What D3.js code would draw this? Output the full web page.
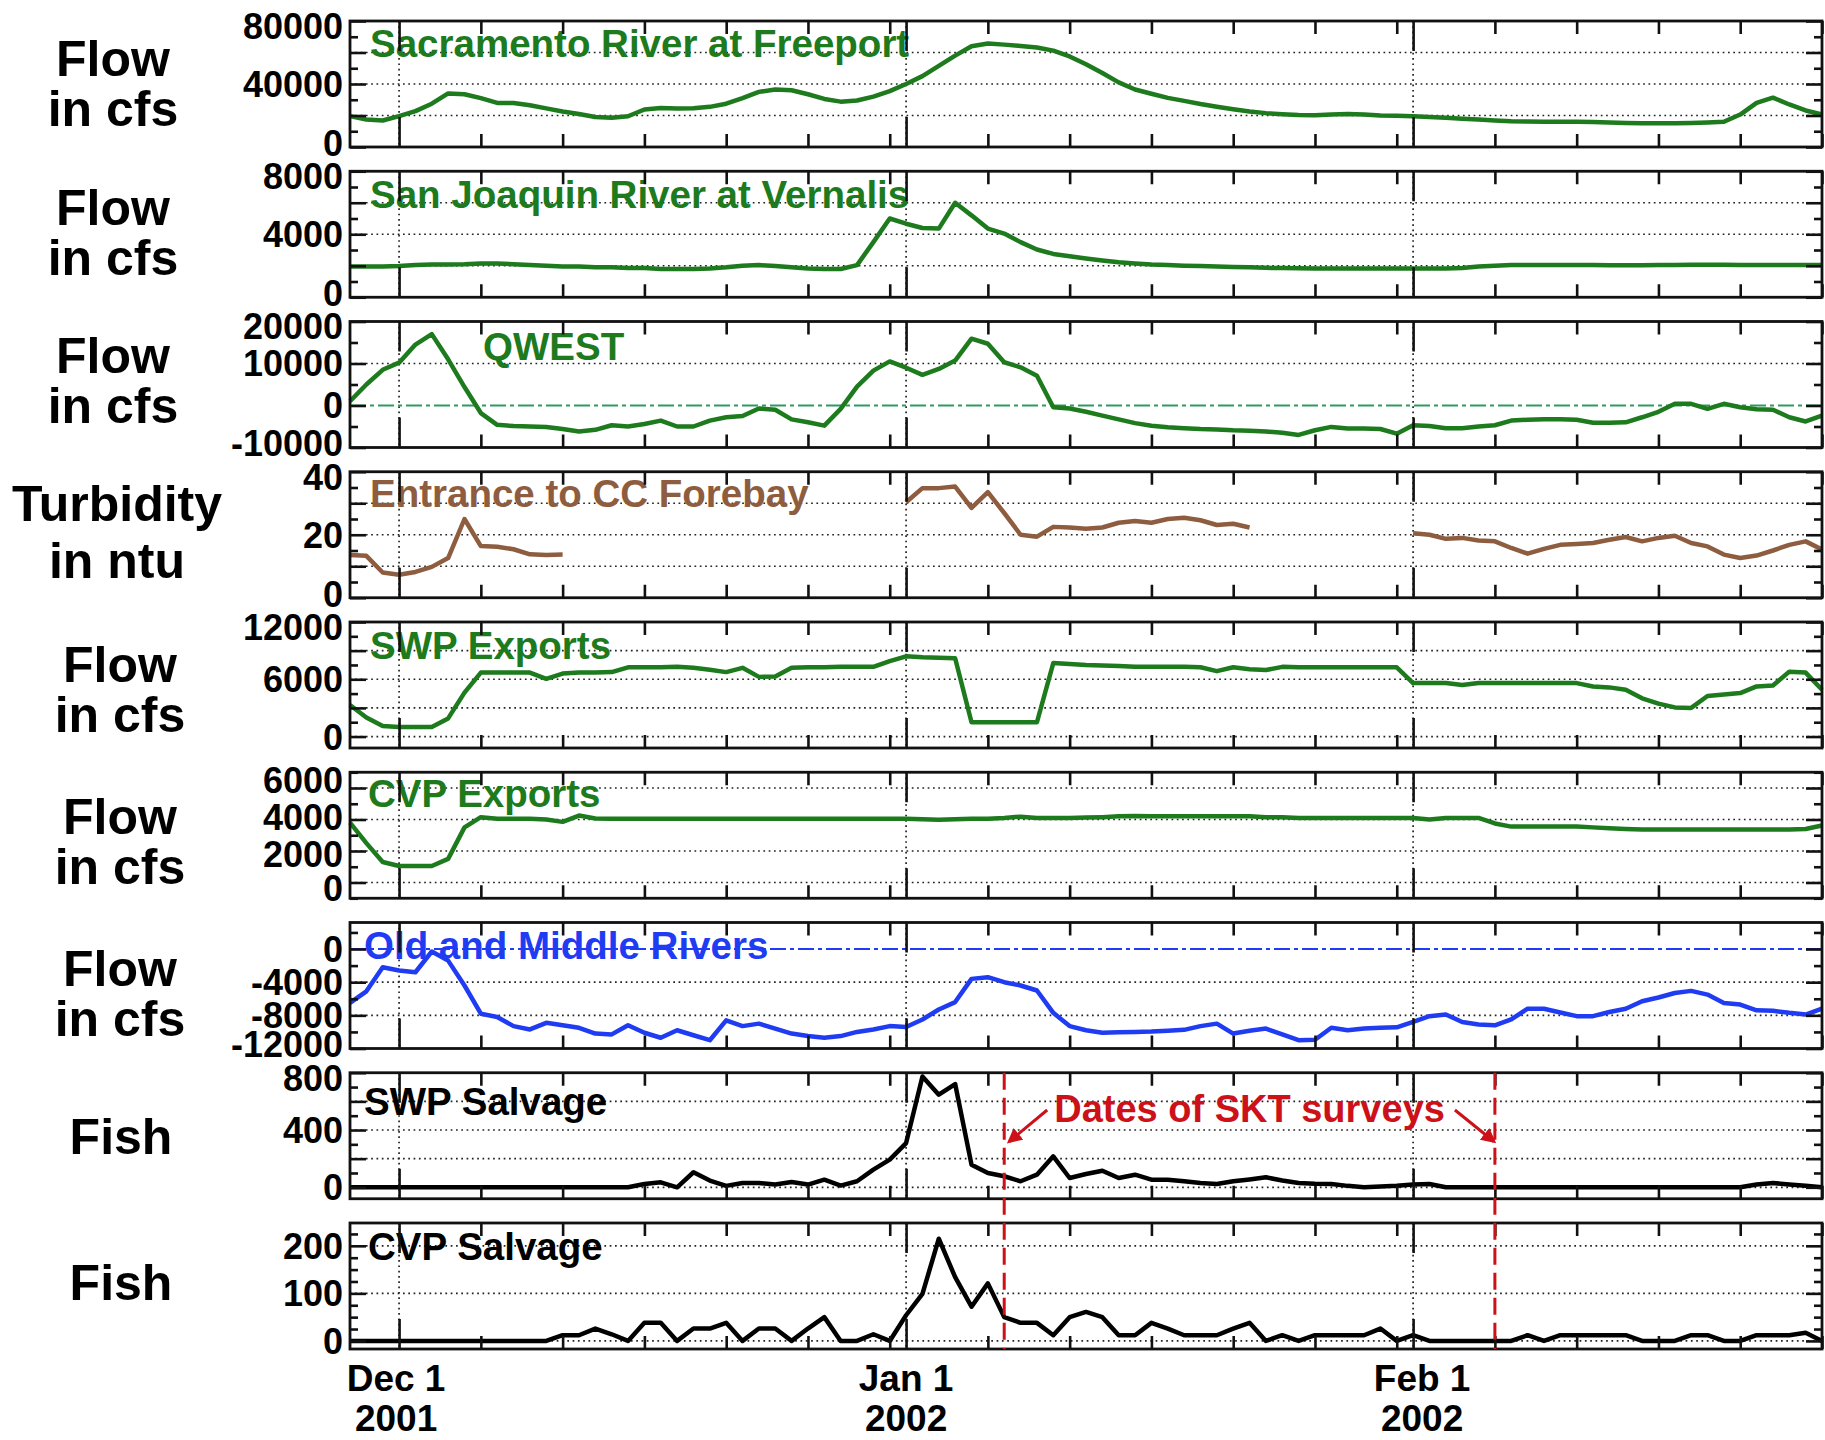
<!DOCTYPE html>
<html><head><meta charset="utf-8">
<script src="https://cdn.jsdelivr.net/npm/d3@7"></script>
<style>
html,body{margin:0;padding:0;background:#fff;}
svg text{font-family:"Liberation Sans",Arial,Helvetica,sans-serif;font-weight:bold;}
</style></head><body>
<svg id="chart" width="1825" height="1440"></svg>
<script>
// ---------------- DATA (daily, Nov 28 2001 .. Feb 26 2002) ----------------
const startDate = new Date(2001, 10, 28);
const endDate = new Date(2002, 1, 26);

const sacramento = [19600,17500,16800,19600,22800,27500,34000,33500,31000,28000,
 28000,26500,24500,22500,21000,19000,18500,19500,23800,24800,
 24500,24600,25500,27500,31000,35000,36500,36000,33500,30500,
 28800,29500,32000,35500,40000,45000,51500,58000,64000,65700,
 65000,64200,63200,61200,57500,52500,47000,41000,36500,33800,
 31200,29300,27300,25600,24000,22600,21500,20800,20300,20200,
 20600,21000,20600,20000,19800,19600,19000,18500,18000,17400,
 16900,16400,16200,16000,16000,16000,15800,15500,15300,15100,
 15100,15100,15300,15600,16000,20600,28000,31300,27000,23200,20600];

const sanJoaquin = [1950,1950,1950,1980,2050,2080,2080,2100,2150,2150,
 2100,2050,2000,1950,1950,1900,1900,1850,1850,1800,
 1800,1800,1830,1900,2000,2040,1980,1900,1830,1800,
 1790,2040,3500,5000,4670,4400,4360,6000,5200,4360,
 4040,3500,3030,2750,2600,2460,2330,2220,2150,2080,
 2040,2000,1980,1950,1920,1900,1870,1850,1840,1830,
 1830,1830,1830,1830,1830,1830,1830,1820,1850,1950,
 2000,2040,2040,2040,2040,2040,2040,2030,2030,2030,
 2040,2050,2060,2060,2060,2050,2050,2050,2040,2040,2040];

const qwest = [1000,5000,8500,10200,14500,17000,11000,4400,-1800,-4600,
 -4900,-5000,-5100,-5600,-6200,-5800,-4700,-5000,-4400,-3600,
 -5000,-5000,-3600,-2800,-2500,-700,-1000,-3300,-4000,-4800,
 -800,4500,8300,10500,9000,7300,8700,10700,15900,14700,
 10300,9100,7100,-400,-700,-1500,-2400,-3300,-4200,-4800,
 -5200,-5400,-5600,-5700,-5900,-6000,-6200,-6500,-7000,-5900,
 -5100,-5500,-5500,-5600,-6700,-4700,-4900,-5400,-5400,-5000,
 -4700,-3600,-3400,-3300,-3300,-3400,-4100,-4100,-4000,-2800,
 -1500,400,400,-800,400,-400,-900,-1000,-2800,-3800,-2400];

const turbidity = [13.6,13.3,8,7.3,8.2,9.8,12.6,25,16.4,16.2,
 15.4,13.8,13.6,13.7,null,null,null,null,null,null,
 null,null,null,null,null,null,null,null,null,null,
 null,null,null,null,30.3,34.8,34.8,35.3,28.5,33.5,
 26.9,20,19.4,22.5,22.3,21.9,22.3,23.8,24.4,23.8,
 25,25.4,24.6,23.1,23.5,22.3,null,null,null,null,
 null,null,null,null,null,20.5,20,18.7,19,18.2,
 17.9,15.8,14,15.5,16.8,17.1,17.4,18.4,19.3,17.9,
 19,19.7,17.4,16.3,13.7,12.6,13.4,15,16.8,17.9,15.3];

const swpExports = [3300,2000,1100,1000,1000,1000,1900,4600,6700,6700,
 6700,6700,6050,6600,6700,6700,6750,7250,7250,7250,
 7300,7200,7000,6750,7200,6250,6300,7200,7250,7250,
 7300,7300,7300,7900,8400,8300,8250,8200,1500,1500,
 1500,1500,1500,7700,7600,7500,7450,7400,7300,7300,
 7300,7300,7260,6850,7260,7050,6970,7300,7250,7250,
 7250,7250,7250,7250,7250,5600,5600,5600,5400,5600,
 5600,5600,5600,5600,5600,5600,5250,5150,4900,4000,
 3450,3050,3000,4250,4400,4550,5250,5350,6800,6700,4900];

const cvpExports = [3800,2500,1300,1050,1050,1050,1500,3500,4150,4050,
 4050,4050,4000,3850,4250,4060,4050,4050,4050,4050,
 4050,4050,4050,4050,4050,4050,4050,4050,4050,4050,
 4050,4050,4050,4050,4050,4020,3980,4020,4050,4050,
 4100,4180,4100,4100,4100,4120,4150,4200,4220,4200,
 4200,4200,4200,4200,4200,4200,4150,4150,4100,4100,
 4100,4100,4100,4100,4100,4100,4000,4100,4100,4100,
 3750,3550,3550,3550,3550,3550,3500,3450,3400,3370,
 3370,3370,3370,3370,3370,3370,3370,3370,3370,3400,3620];

const oldMiddle = [-6500,-5100,-2200,-2600,-2800,-300,-1400,-4400,-7800,-8200,
 -9300,-9700,-8900,-9200,-9500,-10200,-10300,-9200,-10100,-10700,
 -9800,-10400,-11000,-8600,-9300,-9000,-9600,-10200,-10500,-10700,
 -10500,-10000,-9700,-9300,-9400,-8500,-7300,-6400,-3600,-3400,
 -4000,-4400,-5000,-7700,-9300,-9800,-10100,-10050,-10000,-9950,
 -9850,-9750,-9300,-9000,-10200,-9850,-9600,-10300,-11000,-10950,
 -9500,-9800,-9600,-9500,-9450,-8800,-8100,-7900,-8800,-9100,
 -9200,-8500,-7200,-7200,-7650,-8100,-8100,-7600,-7200,-6300,
 -5850,-5300,-5050,-5500,-6500,-6700,-7400,-7450,-7700,-7900,-7200];

const swpSalvage = [0,0,0,0,0,0,0,0,0,0,
 0,0,0,0,0,0,0,0,23,35,
 0,105,47,10,30,30,19,37,19,53,
 12,42,123,193,309,774,647,721,158,100,
 77,42,88,216,65,93,116,65,88,53,
 53,42,30,23,42,55,70,47,30,25,
 23,10,0,5,10,19,23,0,0,0,
 0,0,0,0,0,0,0,0,0,0,
 0,0,0,0,0,0,20,30,20,10,0];

const cvpSalvage = [0,0,0,0,0,0,0,0,0,0,
 0,0,0,12,12,26,14,0,38,38,
 0,26,26,38,0,26,26,0,26,50,
 0,0,14,0,54,99,215,134,72,121,
 50,38,38,12,50,61,50,12,12,38,
 26,12,12,12,26,38,0,12,0,12,
 12,12,12,26,0,12,0,0,0,0,
 0,0,12,0,12,12,12,12,12,0,
 0,0,12,12,0,0,12,12,12,17,0];

// tick labels per panel
const sacTicks = [0, 40000, 80000];
const sjTicks = [0, 4000, 8000];
const qwestTicks = [-10000, 0, 10000, 20000];
const turbTicks = [0, 20, 40];
const swpTicks = [0, 6000, 12000];
const cvpTicks = [0, 2000, 4000, 6000];
const omrTicks = [0, -4000, -8000, -12000];
const swpSalvTicks = [0, 400, 800];
const cvpSalvTicks = [0, 100, 200];

const xLabels = [
  {date: new Date(2001, 11, 1), lines: ["Dec 1", "2001"]},
  {date: new Date(2002, 0, 1), lines: ["Jan 1", "2002"]},
  {date: new Date(2002, 1, 1), lines: ["Feb 1", "2002"]}
];
const surveyDates = [new Date(2002, 0, 7), new Date(2002, 1, 6)];
const surveyText = "Dates of SKT surveys";

// ---------------- STYLE / LAYOUT ----------------
const GREEN = "#1d7a1d", BROWN = "#8e5d40", BLUE = "#1f3cf2", BLACK = "#000", RED = "#cc1119";
const xLabelDx = [-3, 0, 9];
const dates = d3.range(sacramento.length).map(i => d3.timeDay.offset(startDate, i));

const panels = [
  {values: sacramento, label: "Sacramento River at Freeport", color: GREEN, title: ["Flow","in cfs"], domain: [0, 80000], ticks: sacTicks, grid: [20000,40000,60000], minor: 10000, major: 20000, titleX: 113, titleDy: 55, labelX: 370, labelDy: 36},
  {values: sanJoaquin, label: "San Joaquin River at Vernalis", color: GREEN, title: ["Flow","in cfs"], domain: [0, 8000], ticks: sjTicks, grid: [2000,4000,6000], minor: 1000, major: 2000, titleX: 113, titleDy: 54, labelX: 370, labelDy: 37},
  {values: qwest, label: "QWEST", color: GREEN, title: ["Flow","in cfs"], domain: [-10000, 20000], ticks: qwestTicks, grid: [10000], minor: 5000, major: 10000, zero: "#2e9a62", titleX: 113, titleDy: 51, labelX: 483, labelDy: 38},
  {values: turbidity, label: "Entrance to CC Forebay", color: BROWN, title: ["Turbidity","in ntu"], domain: [0, 40], ticks: turbTicks, grid: [10,20,30], minor: 5, major: 10, titleX: 117, titleDy: 49, titleGap: 57, labelX: 370, labelDy: 35},
  {values: swpExports, label: "SWP Exports", color: GREEN, title: ["Flow","in cfs"], domain: [-1200, 12000], ticks: swpTicks, grid: [0,3000,6000,9000], minor: 1500, major: 3000, titleX: 120, titleDy: 60, labelX: 370, labelDy: 37},
  {values: cvpExports, label: "CVP Exports", color: GREEN, title: ["Flow","in cfs"], domain: [-1000, 7000], ticks: cvpTicks, tickShift: [6, 3, -2, -8], grid: [0,2000,4000,6000], minor: 1000, major: 2000, titleX: 120, titleDy: 62, labelX: 368, labelDy: 35},
  {values: oldMiddle, label: "Old and Middle Rivers", color: BLUE, title: ["Flow","in cfs"], domain: [-12000, 3200], ticks: omrTicks, grid: [-4000,-8000], minor: 2000, major: 4000, zero: BLUE, titleX: 120, titleDy: 63, labelX: 364, labelDy: 36},
  {values: swpSalvage, label: "SWP Salvage", color: BLACK, title: ["Fish"], domain: [-80, 800], ticks: swpSalvTicks, grid: [0,200,400,600], minor: 100, major: 200, titleX: 121, titleDy: 81, labelX: 364, labelDy: 42},
  {values: cvpSalvage, label: "CVP Salvage", color: BLACK, title: ["Fish"], domain: [-17, 248], ticks: cvpSalvTicks, grid: [0,100,200], minor: 25, major: 100, titleX: 121, titleDy: 77, labelX: 368, labelDy: 37}
];

const X0 = 350, X1 = 1822, PH = 126;
const panelTop = i => 21 + i * 150.25;
const svg = d3.select("#chart");
svg.append("rect").attr("width", 1825).attr("height", 1440).attr("fill", "#fff");

const defs = svg.append("defs");
defs.append("marker").attr("id", "arrow").attr("viewBox", "0 0 10 10")
  .attr("refX", 8).attr("refY", 5).attr("markerWidth", 5).attr("markerHeight", 5)
  .attr("orient", "auto").append("path").attr("d", "M0,0L10,5L0,10z").attr("fill", RED);

const x = d3.scaleTime().domain([startDate, endDate]).range([X0, X1]);
const monthStarts = xLabels.map(d => d.date);
const minorX = dates.filter(d => [6,11,16,21,26,31].includes(d.getDate()));
const scales = [];

panels.forEach((p, i) => {
  const top = panelTop(i), bottom = top + PH;
  const y = d3.scaleLinear().domain(p.domain).range([bottom, top]);
  scales.push(y);
  const g = svg.append("g");

  // dotted grid
  g.selectAll(null).data(p.grid).join("line")
    .attr("x1", X0).attr("x2", X1).attr("y1", d => y(d)).attr("y2", d => y(d))
    .attr("stroke", "#222").attr("stroke-width", 1.7).attr("stroke-dasharray", "1.7,3.6");
  g.selectAll(null).data(monthStarts).join("line")
    .attr("x1", d => x(d)).attr("x2", d => x(d)).attr("y1", top).attr("y2", bottom)
    .attr("stroke", "#222").attr("stroke-width", 1.7).attr("stroke-dasharray", "1.7,3.6");

  // zero reference line
  if (p.zero) {
    g.append("line").attr("x1", X0).attr("x2", X1).attr("y1", y(0)).attr("y2", y(0))
      .attr("stroke", p.zero).attr("stroke-width", 2).attr("stroke-dasharray", "16,4,4,4");
  }

  // series label
  g.append("text").attr("x", p.labelX).attr("y", top + p.labelDy)
    .attr("font-size", 38.5).attr("fill", p.color).text(p.label);

  // data line
  const line = d3.line().defined(d => d != null)
    .x((d, j) => x(dates[j])).y(d => y(d));
  g.append("path").datum(p.values).attr("d", line)
    .attr("fill", "none").attr("stroke", p.color).attr("stroke-width", 4.5)
    .attr("stroke-linejoin", "round");

  // border
  g.append("rect").attr("x", X0).attr("y", top).attr("width", X1 - X0).attr("height", PH)
    .attr("fill", "none").attr("stroke", "#111").attr("stroke-width", 2.8);

  // y ticks (inward, both sides)
  const lo = p.domain[0], hi = p.domain[1];
  const minorY = d3.range(Math.ceil(lo / p.minor) * p.minor, hi + 1e-9, p.minor)
    .filter(v => Math.abs(v / p.major - Math.round(v / p.major)) > 1e-9);
  const majorY = d3.range(Math.ceil(lo / p.major) * p.major, hi + 1e-9, p.major);
  const styleAxis = s => { s.select(".domain").remove(); s.selectAll("line").attr("stroke", "#111").attr("stroke-width", 2.6); };
  g.append("g").attr("transform", `translate(${X0},0)`).call(d3.axisLeft(y).tickValues(minorY).tickSize(-8).tickFormat("")).call(styleAxis);
  g.append("g").attr("transform", `translate(${X0},0)`).call(d3.axisLeft(y).tickValues(majorY).tickSize(-16).tickFormat("")).call(styleAxis);
  g.append("g").attr("transform", `translate(${X1},0)`).call(d3.axisRight(y).tickValues(minorY).tickSize(-8).tickFormat("")).call(styleAxis);
  g.append("g").attr("transform", `translate(${X1},0)`).call(d3.axisRight(y).tickValues(majorY).tickSize(-16).tickFormat("")).call(styleAxis);

  // x ticks (inward, top and bottom)
  g.append("g").attr("transform", `translate(0,${top})`).call(d3.axisTop(x).tickValues(minorX).tickSize(-13).tickFormat("")).call(styleAxis);
  g.append("g").attr("transform", `translate(0,${top})`).call(d3.axisTop(x).tickValues(monthStarts).tickSize(-30).tickFormat("")).call(styleAxis);
  g.append("g").attr("transform", `translate(0,${bottom})`).call(d3.axisBottom(x).tickValues(minorX).tickSize(-13).tickFormat("")).call(styleAxis);
  g.append("g").attr("transform", `translate(0,${bottom})`).call(d3.axisBottom(x).tickValues(monthStarts).tickSize(-30).tickFormat("")).call(styleAxis);

  // tick labels (nudged inward at the panel edges so neighbours do not collide)
  g.selectAll(null).data(p.ticks).join("text")
    .attr("x", 343)
    .attr("y", (d, k) => {
      let yy = y(d);
      if (p.tickShift) yy += p.tickShift[k];
      else if (yy - top < 6) yy += 5;
      else if (bottom - yy < 6) yy -= 4;
      return yy;
    })
    .attr("dy", "0.36em")
    .attr("text-anchor", "end").attr("font-size", 36).attr("fill", "#000")
    .text(d => String(d));

  // panel title
  const t = g.append("text").attr("text-anchor", "middle").attr("font-size", 50).attr("fill", "#000");
  p.title.forEach((s, k) => {
    t.append("tspan").attr("x", p.titleX).attr("y", top + p.titleDy + k * (p.titleGap || 50)).text(s);
  });
});

// x-axis labels
xLabels.forEach((l, n) => {
  const t = svg.append("text").attr("text-anchor", "middle").attr("font-size", 37).attr("fill", "#000");
  l.lines.forEach((s, k) => t.append("tspan").attr("x", x(l.date) + xLabelDx[n]).attr("y", 1391 + k * 40).text(s));
});

// survey annotation
const ySalv = scales[7];
const annTop = panelTop(7), annBottom = panelTop(8) + PH;
svg.selectAll(null).data(surveyDates).join("line")
  .attr("x1", d => x(d)).attr("x2", d => x(d)).attr("y1", annTop).attr("y2", annBottom)
  .attr("stroke", RED).attr("stroke-width", 3).attr("stroke-dasharray", "17,8");
const midX = (x(surveyDates[0]) + x(surveyDates[1])) / 2;
const at = svg.append("text").attr("x", midX).attr("y", ySalv(455))
  .attr("text-anchor", "middle").attr("font-size", 38).attr("fill", RED).text(surveyText);
const tw = at.node().getComputedTextLength();
svg.append("line").attr("x1", midX - tw / 2 - 7).attr("y1", ySalv(540))
  .attr("x2", x(surveyDates[0]) + 5).attr("y2", ySalv(320))
  .attr("stroke", RED).attr("stroke-width", 3).attr("marker-end", "url(#arrow)");
svg.append("line").attr("x1", midX + tw / 2 + 10).attr("y1", ySalv(540))
  .attr("x2", x(surveyDates[1]) - 1).attr("y2", ySalv(320))
  .attr("stroke", RED).attr("stroke-width", 3).attr("marker-end", "url(#arrow)");
</script>
</body></html>
